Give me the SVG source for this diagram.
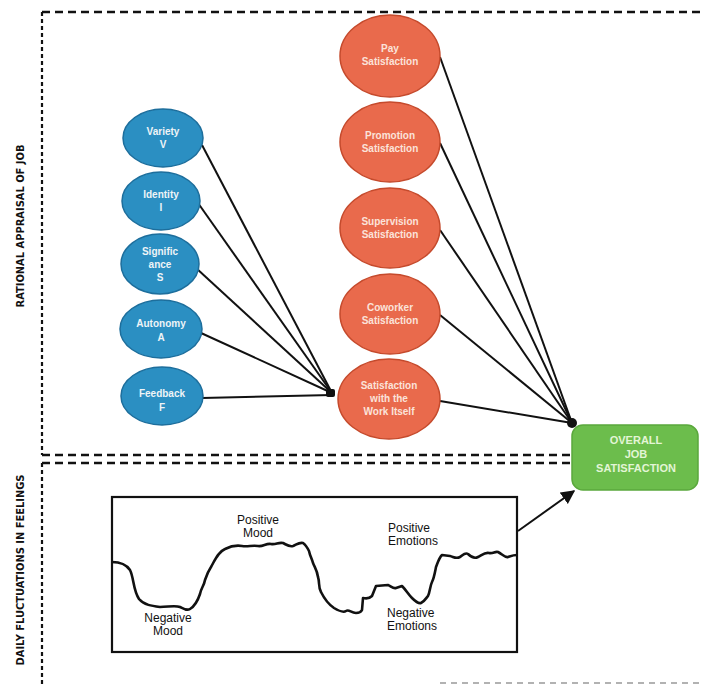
<svg xmlns="http://www.w3.org/2000/svg" width="704" height="686" viewBox="0 0 704 686">
  <style>
    .frame { fill: none; stroke: #111; stroke-width: 2.4; stroke-dasharray: 8 5; }
    .frame-v { fill: none; stroke: #111; stroke-width: 2.2; stroke-dasharray: 4 3; }
    .side { font-family: "DejaVu Sans Condensed", "Liberation Sans", Arial, sans-serif; font-stretch: condensed; font-size: 11px; font-weight: bold; fill: #111; }
    .blue { fill: #2b8fc2; stroke: #1d6e9c; stroke-width: 1.5; }
    .orange { fill: #e96a4c; stroke: #c54a2c; stroke-width: 1.5; }
    .green { fill: #6cbd4c; stroke: #5aa83c; stroke-width: 1.5; }
    .lbl { font-family: "Liberation Sans", Arial, sans-serif; font-size: 10px; font-weight: bold; fill: #eef4f7; text-anchor: middle; }
    .lbl-o { font-family: "Liberation Sans", Arial, sans-serif; font-size: 10px; font-weight: bold; fill: #fbe3da; text-anchor: middle; }
    .lbl-g { font-family: "Liberation Sans", Arial, sans-serif; font-size: 11px; font-weight: bold; fill: #e3f5d6; text-anchor: middle; }
    .wire { fill: none; stroke: #111; stroke-width: 2; }
    .box-t { font-family: "Liberation Sans", Arial, sans-serif; font-size: 12px; fill: #111; }
  </style>
  <defs>
    <marker id="arrow" viewBox="0 0 10 10" refX="9" refY="5" markerWidth="7" markerHeight="7" orient="auto">
      <path d="M0,0 L10,5 L0,10 z" fill="#111"/>
    </marker>
  </defs>
  <rect width="704" height="686" fill="#ffffff"/>

  <!-- section frames -->
  <g id="frames">
    <line class="frame" x1="42" y1="12" x2="704" y2="12"/>
    <line class="frame-v" x1="42" y1="12" x2="42" y2="455"/>
    <line class="frame" x1="42" y1="455" x2="572" y2="455"/>
    <line class="frame" x1="42" y1="463" x2="572" y2="463"/>
    <line class="frame-v" x1="42" y1="463" x2="42" y2="686"/>
    <line x1="440" y1="683" x2="704" y2="683" stroke="#999" stroke-width="1.5" stroke-dasharray="6 5"/>
  </g>

  <g id="side-labels">
    <text class="side" transform="translate(24,226) rotate(-90)" text-anchor="middle">RATIONAL APPRAISAL OF JOB</text>
    <text class="side" transform="translate(24,570) rotate(-90)" text-anchor="middle">DAILY FLUCTUATIONS IN FEELINGS</text>
  </g>

  <!-- connectors -->
  <g id="connectors">
    <line class="wire" x1="202" y1="145" x2="332" y2="393"/>
    <line class="wire" x1="198" y1="203" x2="332" y2="393"/>
    <line class="wire" x1="196" y1="268" x2="332" y2="393"/>
    <line class="wire" x1="201" y1="333" x2="332" y2="393"/>
    <line class="wire" x1="202" y1="398" x2="332" y2="395"/>
    <rect x="326" y="389" width="9" height="8" rx="2" fill="#111"/>

    <line class="wire" x1="440" y1="57" x2="572" y2="423"/>
    <line class="wire" x1="440" y1="143" x2="572" y2="423"/>
    <line class="wire" x1="440" y1="230" x2="572" y2="423"/>
    <line class="wire" x1="440" y1="315" x2="572" y2="423"/>
    <line class="wire" x1="440" y1="401" x2="572" y2="423"/>
    <circle cx="572" cy="423" r="5" fill="#111"/>

    <line class="wire" x1="518" y1="531" x2="574" y2="491" marker-end="url(#arrow)"/>
  </g>

  <!-- job characteristics -->
  <g id="variety">
    <ellipse class="blue" cx="163" cy="138" rx="40" ry="29"/>
    <text class="lbl" x="163" y="135">Variety</text>
    <text class="lbl" x="163" y="148">V</text>
  </g>
  <g id="identity">
    <ellipse class="blue" cx="161" cy="201" rx="39" ry="29"/>
    <text class="lbl" x="161" y="198">Identity</text>
    <text class="lbl" x="161" y="211">I</text>
  </g>
  <g id="significance">
    <ellipse class="blue" cx="160" cy="264" rx="39" ry="30"/>
    <text class="lbl" x="160" y="255">Signific</text>
    <text class="lbl" x="160" y="268">ance</text>
    <text class="lbl" x="160" y="281">S</text>
  </g>
  <g id="autonomy">
    <ellipse class="blue" cx="161" cy="329" rx="41" ry="29"/>
    <text class="lbl" x="161" y="327">Autonomy</text>
    <text class="lbl" x="161" y="341">A</text>
  </g>
  <g id="feedback">
    <ellipse class="blue" cx="162" cy="396" rx="41" ry="29"/>
    <text class="lbl" x="162" y="397">Feedback</text>
    <text class="lbl" x="162" y="411">F</text>
  </g>

  <!-- facet satisfactions -->
  <g id="pay">
    <ellipse class="orange" cx="390" cy="56" rx="50" ry="41"/>
    <text class="lbl-o" x="390" y="52">Pay</text>
    <text class="lbl-o" x="390" y="65">Satisfaction</text>
  </g>
  <g id="promotion">
    <ellipse class="orange" cx="390" cy="142" rx="50" ry="40"/>
    <text class="lbl-o" x="390" y="139">Promotion</text>
    <text class="lbl-o" x="390" y="152">Satisfaction</text>
  </g>
  <g id="supervision">
    <ellipse class="orange" cx="390" cy="228" rx="50" ry="40"/>
    <text class="lbl-o" x="390" y="225">Supervision</text>
    <text class="lbl-o" x="390" y="238">Satisfaction</text>
  </g>
  <g id="coworker">
    <ellipse class="orange" cx="390" cy="314" rx="50" ry="40"/>
    <text class="lbl-o" x="390" y="311">Coworker</text>
    <text class="lbl-o" x="390" y="324">Satisfaction</text>
  </g>
  <g id="work-itself">
    <ellipse class="orange" cx="389" cy="399" rx="51" ry="40"/>
    <text class="lbl-o" x="389" y="389">Satisfaction</text>
    <text class="lbl-o" x="389" y="402">with the</text>
    <text class="lbl-o" x="389" y="415">Work Itself</text>
  </g>

  <!-- overall outcome -->
  <g id="overall">
    <rect class="green" x="572" y="425" width="126" height="65" rx="11"/>
    <text class="lbl-g" x="636" y="444">OVERALL</text>
    <text class="lbl-g" x="636" y="458">JOB</text>
    <text class="lbl-g" x="636" y="472">SATISFACTION</text>
  </g>

  <!-- daily feelings panel -->
  <g id="feelings">
    <rect x="112" y="497" width="405" height="155" fill="#fff" stroke="#111" stroke-width="2.2"/>
    <path fill="none" stroke="#111" stroke-width="2.6" stroke-linejoin="round"
      d="M112,562 C120,562 126,564 130,570 C134,578 133,590 139,599 C144,605 152,606 160,607 C168,607 175,605 180,607 C184,609 187,611 190,609 C195,606 198,600 200,594 C201,588 204,586 205,580 C207,574 209,570 211,567 C215,560 218,552 225,549 C231,546 236,545 242,546 C248,547 252,545 258,546 C263,547 266,543 271,544 C276,545 278,542 283,543 C287,545 289,547 293,546 C296,545 299,542 303,543 C306,545 307,547 309,551 C310,556 312,559 313,563 C315,568 317,570 318,577 C320,583 318,587 321,592 C324,598 328,604 334,608 C339,611 343,613 346,611 C349,609 351,613 356,613 C360,613 361,612 362,610 L363,598 C367,599 370,598 372,596 L376,586 L388,585 C391,586 393,589 396,588 L402,586 C406,590 408,594 412,598 C415,601 418,604 421,603 C425,601 426,598 428,596 C430,592 430,586 432,582 C434,578 435,572 436,567 C438,562 439,558 442,555 L450,556 C454,557 456,559 460,557 C463,555 465,552 468,554 C471,557 474,559 478,557 C482,555 485,552 489,553 C493,554 495,551 498,552 C502,554 505,558 508,557 C511,556 513,555 517,555"/>
    <text class="box-t" x="258" y="524" text-anchor="middle">Positive</text>
    <text class="box-t" x="258" y="537" text-anchor="middle">Mood</text>
    <text class="box-t" x="168" y="622" text-anchor="middle">Negative</text>
    <text class="box-t" x="168" y="635" text-anchor="middle">Mood</text>
    <text class="box-t" x="388" y="532">Positive</text>
    <text class="box-t" x="388" y="545">Emotions</text>
    <text class="box-t" x="387" y="617">Negative</text>
    <text class="box-t" x="387" y="630">Emotions</text>
  </g>
</svg>
